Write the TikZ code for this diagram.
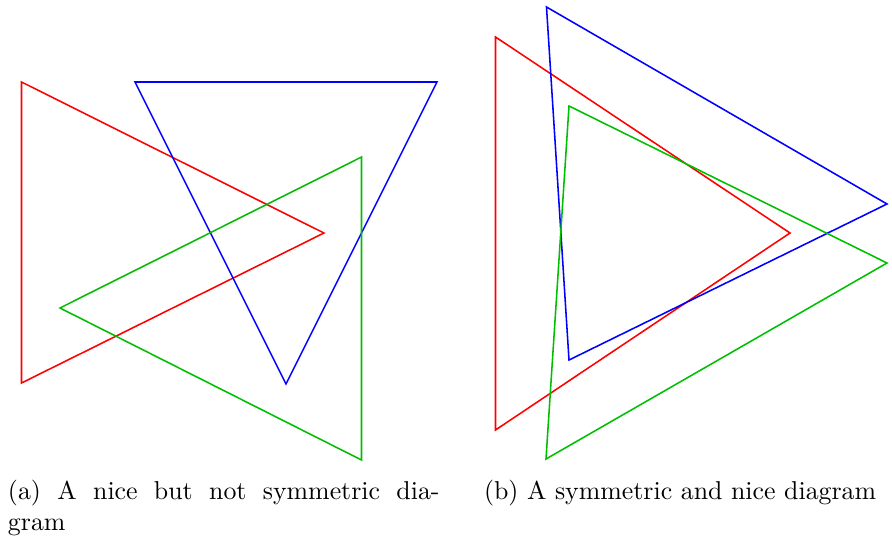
\documentclass[tikz,border=0pt]{standalone}
\usepackage{tikz}
\usetikzlibrary{positioning}
\usepackage{xcolor}

\begin{document}
\begin{tikzpicture}[
  x=0.387pt, y=-0.387pt,
  tri/.style={line width=0.6pt, line join=miter},
  captext/.style={anchor=base west, inner sep=0pt, outer sep=0pt, font=\normalsize},
]
\useasboundingbox (0,0) rectangle (892,539);

% --- (a) not symmetric ---
\draw[tri, red]   (21.5,82)  -- (21.5,383) -- (324,233) -- cycle;
\draw[tri, blue]  (135,82)   -- (437,82)   -- (286,384) -- cycle;
\draw[tri, green!75!black] (361.5,157) -- (361.5,460) -- (60,308) -- cycle;

% --- (b) symmetric ---
\draw[tri, red]   (495.5,37) -- (495.5,430) -- (790,233) -- cycle;
\draw[tri, blue]  (546.5,7)  -- (887,204)   -- (569,360) -- cycle;
\draw[tri, green!75!black] (569,106) -- (887,263) -- (546,459) -- cycle;

% --- captions ---
\node[captext] (capa1) at (8,499) {\makebox[167pt][s]{(a) A nice but not symmetric dia-}};
\node[captext] (capa2) at (8,530) {gram};
\node[captext] (capb) at (484,499) {(b) A symmetric and nice diagram};
\end{tikzpicture}
\end{document}
